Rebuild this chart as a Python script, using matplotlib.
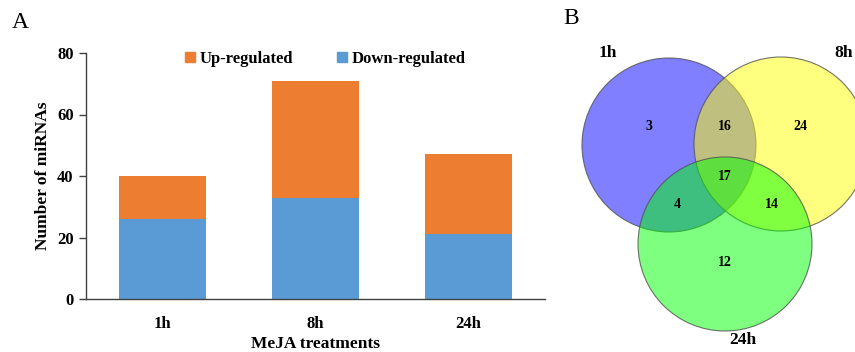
#! /usr/bin/env python3
import matplotlib
matplotlib.use('Agg')
import matplotlib.pyplot as plt
from matplotlib.patches import Circle, Patch
import numpy as np

plt.rcParams['font.family'] = ['Liberation Serif', 'DejaVu Serif']
################################################################################
# differentially expressed miRNAs per MeJA time point
treatments = ['1h', '8h', '24h']
down_regulated = [26, 33, 21]
up_regulated = [14, 38, 26]

# venn counts
venn_sets = ['1h', '8h', '24h']
venn_only = [3, 24, 12]          # 1h, 8h, 24h only
venn_pairs = [16, 4, 14]         # 1h&8h, 1h&24h, 8h&24h
venn_all = 17
################################################################################
c_up = '#ED7D31'
c_down = '#5B9BD5'

fig = plt.figure(figsize=(8.55, 3.52), dpi=100)

# --- panel A: stacked bars
ax = fig.add_axes([86/855, 1-299/352, 459/855, 246/352])
x = np.arange(len(treatments))
ax.bar(x, down_regulated, width=0.575, color=c_down, label='Down-regulated')
ax.bar(x, up_regulated, width=0.575, bottom=down_regulated, color=c_up,
       label='Up-regulated')
ax.set_xlim(-0.5, 2.5)
ax.set_ylim(0, 80)
ax.set_yticks([0, 20, 40, 60, 80])
ax.set_xticks(x)
ax.set_xticklabels(treatments)
for s in ['top', 'right']:
    ax.spines[s].set_visible(False)
for s in ['left', 'bottom']:
    ax.spines[s].set_color('#404040')
    ax.spines[s].set_linewidth(1.0)
ax.tick_params(axis='y', length=5, width=1, color='#404040', labelsize=12, pad=4)
ax.tick_params(axis='x', length=0, labelsize=12, pad=12)
for lab in ax.get_xticklabels() + ax.get_yticklabels():
    lab.set_fontweight('bold')
ax.set_ylabel('Number of miRNAs', fontsize=12.5, fontweight='bold', labelpad=4)
ax.set_xlabel('MeJA treatments', fontsize=12.5, fontweight='bold', labelpad=3)

handles = [Patch(color=c_up), Patch(color=c_down)]
ax.legend(handles, ['Up-regulated', 'Down-regulated'], ncol=2, frameon=False,
          loc='upper left', bbox_to_anchor=(0.183, 1.07), handlelength=0.6,
          handleheight=0.6, handletextpad=0.3, columnspacing=2.6,
          prop={'weight': 'bold', 'size': 12})

fig.text(12/855, 1-22/352, 'A', fontsize=17, va='center', ha='left')

# --- panel B: venn diagram (axes in pixel units)
av = fig.add_axes([560/855, 0, 295/855, 1])
av.set_xlim(560, 855)
av.set_ylim(352, 0)
av.axis('off')

r = 87
centers = [(669, 145), (781, 144), (725, 244)]
fills = ['#0000FF', '#FFFF00', '#00FF00']
for (cx, cy), fc in zip(centers, fills):
    av.add_patch(Circle((cx, cy), r, facecolor=fc, alpha=0.5, edgecolor='none'))
    av.add_patch(Circle((cx, cy), r, facecolor='none', edgecolor='#505050',
                        linewidth=0.8, alpha=0.8))

num_kw = dict(fontsize=10, fontweight='bold', ha='center', va='center')
for (tx, ty), n in zip([(649, 127), (800, 127), (725, 262)], venn_only):
    av.text(tx, ty, str(n), **num_kw)
for (tx, ty), n in zip([(725, 127), (677, 204), (772, 204)], venn_pairs):
    av.text(tx, ty, str(n), **num_kw)
av.text(725, 177, str(venn_all), **num_kw)

set_kw = dict(fontsize=12.5, fontweight='bold', ha='center', va='center')
for (tx, ty), name in zip([(608, 53), (844, 53), (743, 340)], venn_sets):
    av.text(tx, ty, name, **set_kw)

fig.text(563/855, 1-18/352, 'B', fontsize=17, va='center', ha='left')

fig.savefig('out.png', dpi=100)
